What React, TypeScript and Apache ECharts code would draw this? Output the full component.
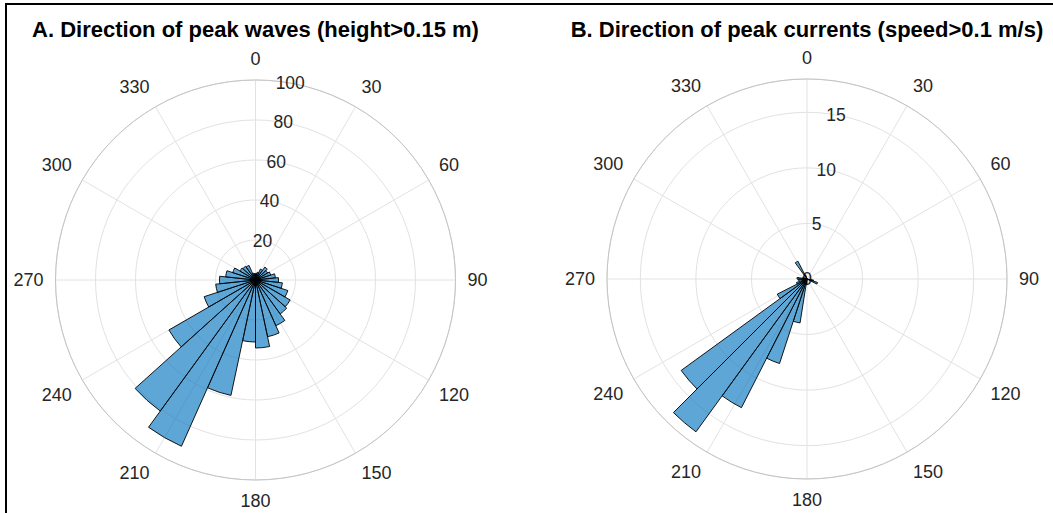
import { useEffect, useRef } from 'react';
import * as echarts from 'echarts';

// wave directions: 30 bins of 12 degrees (bin start angle)
const waveBins = [
  '0', '12', '24', '36', '48', '60', '72', '84', '96', '108',
  '120', '132', '144', '156', '168', '180', '192', '204', '216', '228',
  '240', '252', '264', '276', '288', '300', '312', '324', '336', '348',
];
const waveCounts = [
  3, 4, 6, 8, 7, 8, 10, 11.5, 13.5, 17,
  20, 21, 25, 29, 34, 31, 59, 91, 81, 50,
  27, 20, 18, 15, 12, 9, 8.5, 8, 3.5, 3,
];

// current directions: 40 bins of 9 degrees (bin start angle)
const currentBins = [
  '0', '9', '18', '27', '36', '45', '54', '63', '72', '81',
  '90', '99', '108', '117', '126', '135', '144', '153', '162', '171',
  '180', '189', '198', '207', '216', '225', '234', '243', '252', '261',
  '270', '279', '288', '297', '306', '315', '324', '333', '342', '351',
];
const currentCounts = [
  0, 0, 0, 0, 0, 0, 0, 0, 0, 0,
  0, 0.6, 1.0, 0, 0, 0, 0, 0, 0, 0,
  0.5, 4, 8, 13, 17, 14, 3, 1.0, 0, 0.8,
  0.9, 0.4, 0, 0, 0, 0, 1.8, 0.4, 0, 0,
];

const angleTicks = [0, 30, 60, 90, 120, 150, 180, 210, 240, 270, 300, 330];
const waveRadiusTicks = [0, 20, 40, 60, 80, 100];
const currentRadiusTicks = [0, 5, 10, 15];

const titles = [
  'A. Direction of peak waves (height>0.15 m)',
  'B. Direction of peak currents (speed>0.1 m/s)',
];

const FONT = '"Liberation Sans", Arial, Helvetica, sans-serif';
const GRID = '#e2e2e2';
const LABEL = '#262626';
const BAR_FILL = 'rgba(0, 114, 189, 0.63)';

export default function App() {
  const chartRef = useRef<HTMLDivElement>(null);

  useEffect(() => {
    if (!chartRef.current) return;
    const chart = echarts.init(chartRef.current, undefined, { renderer: 'svg' });

    const panels = [
      { center: [255.5, 280], bins: waveBins, counts: waveCounts, rTicks: waveRadiusTicks, rMax: 100 },
      { center: [807, 279], bins: currentBins, counts: currentCounts, rTicks: currentRadiusTicks, rMax: 18 },
    ];

    const polar: any[] = [];
    const angleAxis: any[] = [];
    const radiusAxis: any[] = [];
    const series: any[] = [];

    panels.forEach((p, i) => {
      const base = i * 3;
      const rInterval = p.rTicks[1] - p.rTicks[0];
      // 0: grid + angle labels, 1: radius labels at 10 deg, 2: bars
      for (let k = 0; k < 3; k++) {
        polar.push({ center: p.center, radius: 200 });
      }

      angleAxis.push({
        polarIndex: base,
        type: 'value',
        min: 0,
        max: 360,
        interval: angleTicks[1] - angleTicks[0],
        startAngle: 90,
        clockwise: true,
        axisLine: { show: true, lineStyle: { color: '#c4c4c4', width: 1 } },
        axisTick: { show: false },
        axisLabel: {
          margin: 12,
          color: LABEL,
          fontSize: 18,
          fontFamily: FONT,
          formatter: (v: number) => (angleTicks.includes(v) ? String(v) : ''),
        },
        splitLine: { show: true, lineStyle: { color: GRID, width: 1 } },
      });
      angleAxis.push({
        polarIndex: base + 1,
        type: 'value',
        min: 0,
        max: 360,
        startAngle: 80,
        show: false,
      });
      angleAxis.push({
        polarIndex: base + 2,
        type: 'category',
        data: p.bins,
        startAngle: 90,
        clockwise: true,
        boundaryGap: true,
        show: false,
      });

      radiusAxis.push({
        polarIndex: base,
        type: 'value',
        min: 0,
        max: p.rMax,
        interval: rInterval,
        axisLine: { show: false },
        axisTick: { show: false },
        axisLabel: { show: false },
        splitLine: { show: true, lineStyle: { color: GRID, width: 1 } },
      });
      radiusAxis.push({
        polarIndex: base + 1,
        type: 'value',
        min: 0,
        max: p.rMax,
        interval: rInterval,
        axisLine: { show: false },
        axisTick: { show: false },
        splitLine: { show: false },
        axisLabel: {
          margin: 0,
          align: 'center',
          verticalAlign: 'middle',
          color: LABEL,
          fontSize: 17.5,
          fontFamily: FONT,
          formatter: (v: number) => (p.rTicks.includes(v) ? String(v) : ''),
        },
      });
      radiusAxis.push({
        polarIndex: base + 2,
        type: 'value',
        min: 0,
        max: p.rMax,
        show: false,
      });

      series.push({
        type: 'bar',
        coordinateSystem: 'polar',
        polarIndex: base + 2,
        data: p.counts,
        barCategoryGap: '0%',
        itemStyle: { color: BAR_FILL, borderColor: '#000', borderWidth: 0.9 },
        z: 3,
      });
    });

    chart.setOption({
      animation: false,
      backgroundColor: '#fff',
      title: titles.map((t, i) => ({
        text: t,
        left: panels[i].center[0],
        top: 18,
        textAlign: 'center',
        padding: 0,
        textStyle: { fontSize: 22, fontWeight: 'bold', color: '#000', fontFamily: FONT },
      })),
      polar,
      angleAxis,
      radiusAxis,
      series,
    });

    return () => {
      chart.dispose();
    };
  }, []);

  return (
    <div style={{ position: 'fixed', left: 0, top: 0, width: 1053, height: 513, background: '#fff' }}>
      <div ref={chartRef} style={{ position: 'absolute', left: 0, top: 0, width: 1053, height: 513 }} />
      <div
        style={{
          position: 'absolute',
          left: 5,
          top: 3,
          width: 1060,
          height: 520,
          borderLeft: '2.5px solid #000',
          borderTop: '2px solid #000',
          pointerEvents: 'none',
        }}
      />
    </div>
  );
}
